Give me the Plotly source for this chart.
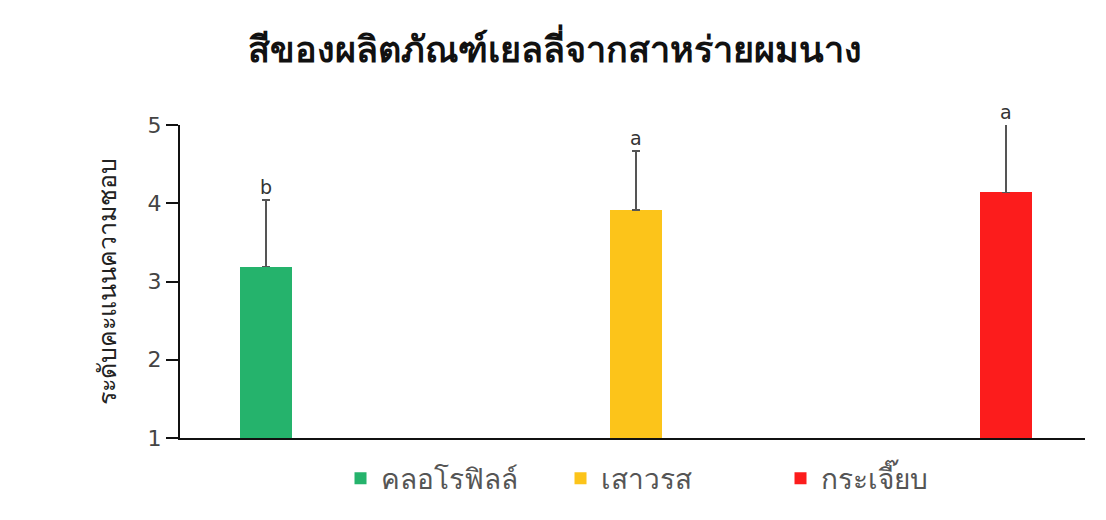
import plotly.graph_objects as go

categories = ["คลอโรฟิลล์", "เสาวรส", "กระเจี๊ยบ"]
means = [3.19, 3.91, 4.14]
errors = [0.85, 0.76, 0.88]
letters = ["b", "a", "a"]
colors = ["#25b36c", "#fcc41a", "#fc1c1c"]

fig = go.Figure()
for cat, m, e, c in zip(categories, means, errors, colors):
    fig.add_trace(go.Bar(
        x=[cat], y=[m - 1], base=1, name=cat,
        marker=dict(color=c, line=dict(width=0)),
        width=0.14,
        error_y=dict(type="data", symmetric=False, array=[e], arrayminus=[0],
                     color="#555555", thickness=1.6, width=4),
    ))

for cat, m, e, l in zip(categories, means, errors, letters):
    fig.add_annotation(x=cat, y=min(m + e, 5), text=l, showarrow=False,
                       yanchor="bottom", yshift=0,
                       font=dict(size=19, color="#333333", family="DejaVu Sans"))

fig.update_layout(
    width=1106, height=520,
    margin=dict(l=180, r=21, t=125, b=82),
    paper_bgcolor="white", plot_bgcolor="white",
    title=dict(text="<b>สีของผลิตภัณฑ์เยลลี่จากสาหร่ายผมนาง</b>", x=0.502, xanchor="center",
               y=0.905, yanchor="middle",
               font=dict(size=36, color="#111111", family="Noto Sans, sans-serif")),
    showlegend=True,
    legend=dict(orientation="h", x=0.542, xanchor="center", y=-0.05, yanchor="top",
                font=dict(size=28, color="#555555", family="Noto Sans, sans-serif"),
                itemsizing="constant", traceorder="normal", itemwidth=30,
                entrywidth=175, entrywidthmode="pixels"),
    bargap=0,
    font=dict(family="Noto Sans, sans-serif"),
)
fig.update_xaxes(type="category", range=[-0.232, 2.214], showticklabels=False,
                 showline=True, linecolor="#111111", linewidth=2, ticks="",
                 showgrid=False, zeroline=False)
fig.update_yaxes(range=[1, 5], tickvals=[1, 2, 3, 4, 5], showline=True,
                 linecolor="#111111", linewidth=2, ticks="outside", ticklen=12,
                 tickcolor="#111111", tickwidth=2, showgrid=False, zeroline=False,
                 tickfont=dict(size=22, color="#444444", family="DejaVu Sans"),
                 title=dict(text="ระดับคะแนนความชอบ", standoff=24,
                            font=dict(size=25, color="#222222", family="Noto Sans, sans-serif")))

fig.write_html("out.html")
